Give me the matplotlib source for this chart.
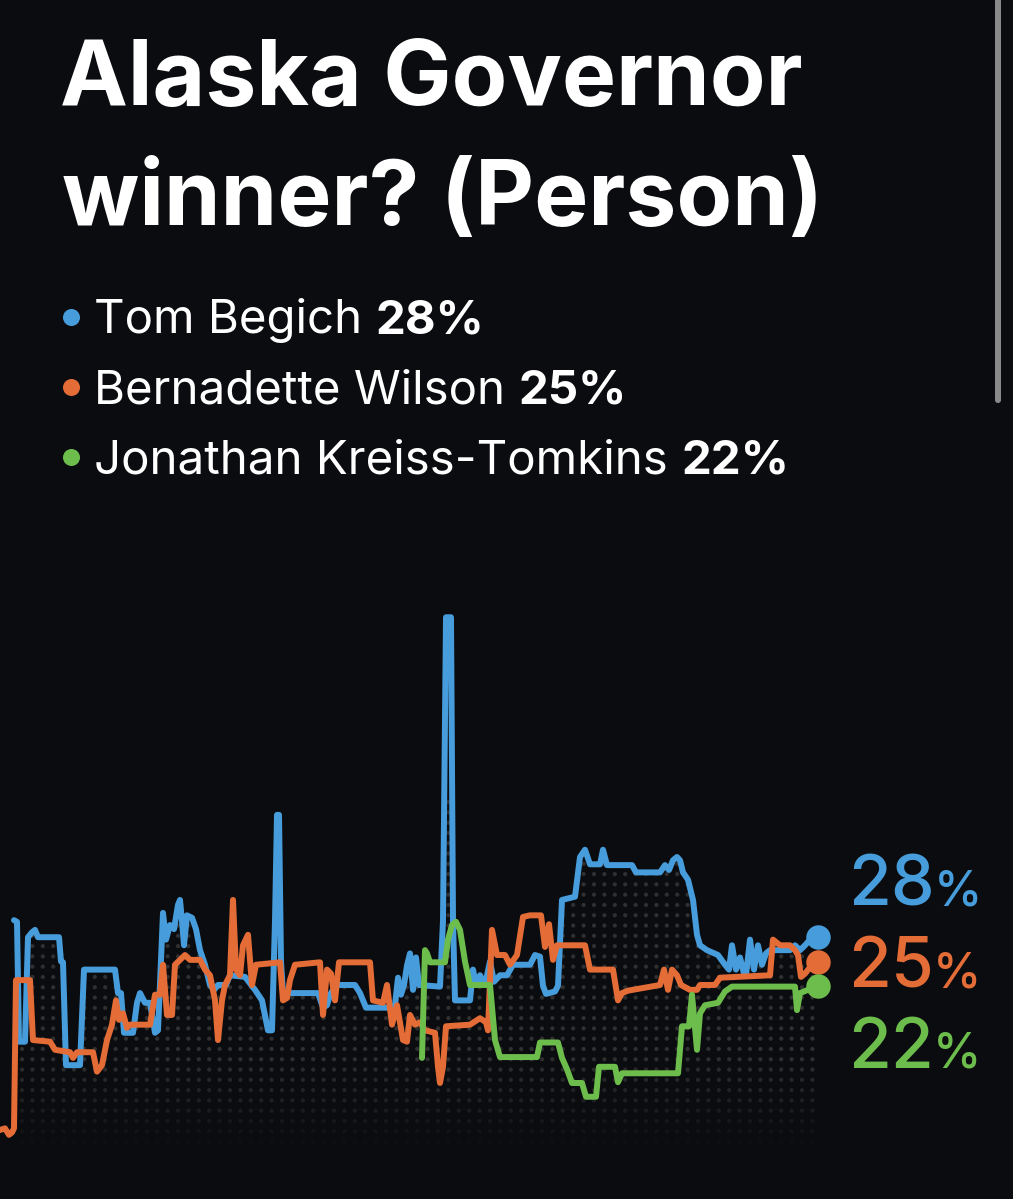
import numpy as np
import matplotlib
matplotlib.use("Agg")
import matplotlib.pyplot as plt
from matplotlib.patches import Polygon, FancyBboxPatch

W, H = 1013, 1199
BG = "#0b0c0f"
FONT = "Inter"

NAMES = ["Tom Begich", "Bernadette Wilson", "Jonathan Kreiss-Tomkins"]
FINAL = [28, 25, 22]
COLORS = ["#479ddb", "#e46c37", "#6dbd4d"]

# time index (arbitrary units) and chance in %
blue_t = [14, 17, 19, 25, 28, 32, 35, 38, 59, 61, 63, 66, 80, 84, 115, 118, 121,
          124, 133, 137, 140, 145, 150, 155, 158, 163, 166, 170, 174, 178, 180,
          182, 184, 187, 192, 196, 200, 205, 210, 214, 218, 226, 230, 245, 255,
          262, 268, 272, 275, 277, 279, 281, 283, 318, 323, 327, 330, 336, 355,
          360, 366, 390, 395, 398, 401, 404, 407, 410, 413, 416, 419, 440, 443,
          446, 451, 453, 455, 470, 473, 476, 480, 485, 490, 494, 500, 507, 513,
          530, 535, 540, 543, 546, 555, 558, 562, 575, 580, 585, 590, 600, 603,
          607, 632, 636, 660, 665, 669, 673, 677, 680, 683, 688, 693, 697, 700,
          707, 718, 725, 729, 732, 736, 740, 744, 746, 750, 754, 758, 762, 766,
          770, 790, 795, 800, 805, 810, 818]
blue_v = [30.1, 29.9, 15.1, 15.1, 28.0, 28.6, 28.9, 28.0, 28.0, 25.0, 24.9, 12.2,
          12.2, 24.0, 24.0, 21.1, 21.1, 16.2, 16.2, 19.9, 21.1, 19.9, 19.9, 16.2,
          16.5, 31.0, 27.7, 29.5, 29.0, 32.0, 32.6, 30.0, 27.0, 30.7, 30.4, 29.0,
          26.4, 24.6, 22.1, 21.5, 22.1, 22.1, 23.3, 23.1, 21.5, 20.2, 16.5, 16.5,
          30.0, 43.1, 43.1, 25.0, 21.1, 21.1, 19.3, 19.6, 20.9, 22.1, 22.1, 21.1,
          19.3, 19.3, 19.6, 23.0, 20.9, 22.1, 24.5, 26.0, 21.5, 25.5, 22.1, 21.9,
          30.0, 67.5, 67.5, 30.0, 20.2, 20.2, 24.0, 22.1, 23.3, 22.1, 25.0, 22.5,
          23.3, 23.3, 24.6, 24.6, 25.8, 25.6, 22.0, 21.0, 21.3, 22.0, 32.6, 33.0,
          37.9, 38.8, 37.0, 37.0, 38.8, 36.9, 36.9, 36.0, 36.0, 36.9, 36.3, 37.5,
          37.9, 37.5, 36.0, 35.1, 32.6, 28.3, 27.0, 26.4, 25.8, 24.6, 24.0, 27.0,
          24.0, 25.5, 23.5, 23.3, 27.7, 24.0, 27.0, 24.6, 26.0, 26.4, 26.4, 27.0,
          26.4, 27.0, 27.7, 28.0]

orange_t = [0, 5, 9, 12, 14, 16, 30, 33, 50, 55, 70, 73, 77, 93, 97, 102, 107,
            112, 116, 119, 123, 127, 130, 150, 155, 160, 163, 167, 172, 175, 180,
            185, 190, 200, 205, 210, 215, 218, 222, 225, 230, 233, 236, 240, 243,
            248, 252, 256, 280, 283, 287, 290, 295, 320, 323, 327, 331, 335, 339,
            370, 373, 383, 387, 392, 397, 403, 407, 410, 415, 420, 425, 435, 438,
            440, 443, 446, 470, 480, 486, 488, 492, 497, 505, 510, 517, 523, 530,
            541, 545, 549, 553, 557, 585, 590, 613, 618, 622, 628, 660, 664, 668,
            672, 677, 681, 690, 697, 700, 715, 720, 770, 773, 780, 790, 795, 798,
            801, 805, 812, 818]
orange_v = [4.2, 4.4, 3.6, 3.9, 4.4, 22.7, 22.7, 15.3, 15.1, 14.1, 13.8, 13.1,
            13.8, 13.8, 11.4, 12.2, 15.3, 17.2, 20.2, 17.8, 18.6, 16.8, 17.2, 17.2,
            20.9, 20.9, 24.6, 18.4, 18.4, 24.6, 25.2, 25.8, 25.2, 25.2, 24.0, 23.3,
            20.2, 15.3, 20.2, 22.1, 23.3, 32.6, 24.0, 23.3, 27.0, 28.3, 22.1, 24.6,
            24.9, 20.2, 20.5, 22.7, 24.6, 24.9, 18.4, 24.0, 23.5, 20.2, 24.9, 24.9,
            20.2, 19.9, 22.1, 17.2, 19.6, 15.3, 15.1, 18.4, 17.2, 17.5, 16.5, 16.2,
            12.0, 10.0, 12.0, 17.0, 17.2, 18.0, 17.5, 16.5, 28.9, 25.8, 25.8, 24.6,
            25.8, 30.5, 30.7, 30.7, 26.8, 29.6, 25.2, 27.0, 27.0, 24.0, 24.0, 20.2,
            21.1, 21.4, 22.1, 24.0, 21.5, 24.0, 23.3, 22.1, 21.5, 21.5, 22.1, 22.1,
            23.0, 23.3, 27.7, 27.0, 27.0, 26.4, 25.8, 23.1, 23.5, 24.6, 25.0]

green_t = [422, 425, 427, 430, 445, 448, 452, 456, 460, 465, 470, 490, 495, 500,
           537, 540, 558, 562, 567, 572, 582, 586, 596, 599, 615, 618, 622, 678,
           682, 689, 692, 697, 700, 705, 718, 725, 732, 795, 797, 800, 818]
green_v = [13.1, 26.4, 26.0, 24.9, 24.9, 27.7, 29.5, 29.9, 28.9, 25.0, 22.1, 22.1,
           15.3, 13.2, 13.2, 15.0, 15.0, 13.1, 11.7, 10.0, 10.0, 8.3, 8.3, 12.0,
           12.0, 10.1, 11.2, 11.2, 17.0, 17.0, 20.9, 14.1, 18.6, 19.6, 19.9, 21.3,
           21.9, 21.9, 19.0, 21.1, 22.0]

SERIES = [(blue_t, blue_v), (orange_t, orange_v), (green_t, green_v)]

PX_PER_PCT = 8.1
Y0_PX = 1164  # pixel row of 0 %


def main():
    fig = plt.figure(figsize=(W / 100, H / 100), dpi=100, facecolor=BG)
    ax = fig.add_axes([0, 0, 1, 1])
    ax.set_facecolor(BG)
    ax.set_xlim(0, W)
    ax.set_ylim((Y0_PX - H) / PX_PER_PCT, Y0_PX / PX_PER_PCT)
    ax.axis("off")

    # dotted texture under the leading line, fading out at the bottom
    clip = Polygon(np.column_stack([blue_t + [blue_t[-1], blue_t[0]],
                                    blue_v + [-5, -5]]),
                   closed=True, fc="none", ec="none", transform=ax.transData)
    ax.add_patch(clip)
    gx, gy = np.meshgrid(np.arange(22, 815, 10.4), np.arange(1.5, 45, 1.27))
    gx, gy = gx.ravel(), gy.ravel()
    fade = np.clip((gy - 1.5) / 12.0, 0, 1)
    cols = np.zeros((len(gx), 4))
    cols[:, :3] = 0.19
    cols[:, 3] = fade
    dots = ax.scatter(gx, gy, s=9, c=cols, lw=0, zorder=1)
    dots.set_clip_path(clip)

    for i, (t, v) in enumerate(SERIES):
        ax.plot(t, v, color=COLORS[i], lw=4.3, solid_joinstyle="round",
                solid_capstyle="round", zorder=3 + i)
    for i, (t, v) in enumerate(SERIES):
        ax.scatter([t[-1]], [v[-1]], s=310, color=COLORS[i], lw=0, zorder=10 + i)

    # overlay in pixel coordinates for the text parts
    ov = fig.add_axes([0, 0, 1, 1], facecolor="none")
    ov.set_xlim(0, W)
    ov.set_ylim(H, 0)
    ov.axis("off")
    r = fig.canvas.get_renderer()
    inv = ov.transData.inverted()

    def right_edge(txt):
        bb = txt.get_window_extent(renderer=r)
        return inv.transform((bb.x1, bb.y0))[0]

    ov.text(60, 105, "Alaska Governor", color="white", fontsize=65.5,
            fontweight="bold", family=FONT, va="baseline")
    ov.text(62, 225, "winner? (Person)", color="white", fontsize=65.5,
            fontweight="bold", family=FONT, va="baseline")

    for i, name in enumerate(NAMES):
        yb = 333 + 70 * i
        ov.scatter([71], [yb - 16], s=150, color=COLORS[i], lw=0)
        t1 = ov.text(94, yb, name + " ", color="white", fontsize=34.2,
                     family=FONT, va="baseline")
        ov.text(right_edge(t1), yb, f"{FINAL[i]}%", color="white",
                fontsize=34.2, fontweight="bold", family=FONT, va="baseline")

    for i, pct in enumerate(FINAL):
        yb = [905, 988, 1068][i]
        t1 = ov.text(848, yb, str(pct), color=COLORS[i], fontsize=50,
                     family=FONT, fontweight="medium", va="baseline")
        ov.text(right_edge(t1) - 1, yb, "%", color=COLORS[i], fontsize=35,
                family=FONT, fontweight="medium", va="baseline")

    # scrollbar of the screenshot
    ov.add_patch(FancyBboxPatch((995, -20), 6, 423, boxstyle="round,pad=0,rounding_size=3",
                                fc="#8a8a8a", ec="none"))

    fig.savefig("out.png", dpi=100, facecolor=BG)


if __name__ == "__main__":
    main()
